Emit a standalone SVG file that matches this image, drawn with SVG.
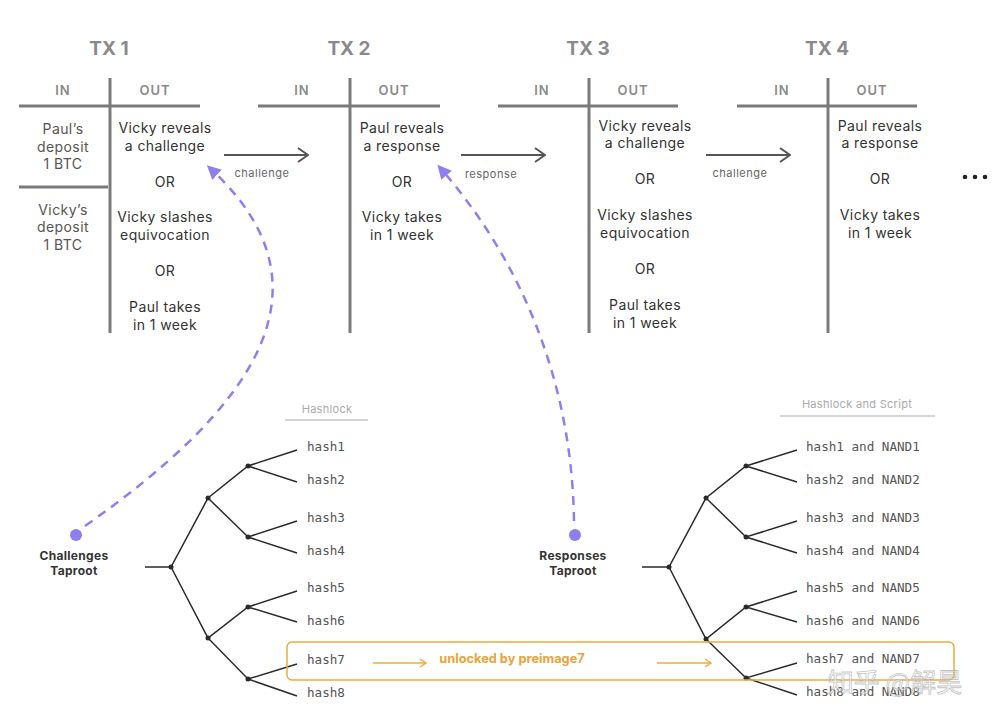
<svg xmlns="http://www.w3.org/2000/svg" width="999" height="721" viewBox="0 0 999 721">
<defs>
<style>
.title{font-family:Inter,"Liberation Sans",sans-serif;font-size:19px;font-weight:700;fill:#8a8a8a;text-anchor:middle}
.hdr{font-family:Inter,"Liberation Sans",sans-serif;font-size:13px;font-weight:600;fill:#8a8a8a;text-anchor:middle;letter-spacing:1px}
.t{font-family:Inter,"Liberation Sans",sans-serif;font-size:14px;fill:#333;text-anchor:middle;letter-spacing:0.4px}
.tin{font-family:Inter,"Liberation Sans",sans-serif;font-size:14px;fill:#555;text-anchor:middle;letter-spacing:0.4px}
.lbl{font-family:Inter,"Liberation Sans",sans-serif;font-size:11px;fill:#666;text-anchor:middle;letter-spacing:0.5px}
.tbl{stroke:#7a7a7a;stroke-width:3;fill:none}
.arr{stroke:#555;stroke-width:2;fill:none}
.tree{stroke:#2a2a2a;stroke-width:1.5;fill:none}
.nd{fill:#2a2a2a}
.mono{font-family:"DejaVu Sans Mono","Liberation Mono",monospace;font-size:12.6px;fill:#555}
.cap{font-family:Inter,"Liberation Sans",sans-serif;font-size:11px;fill:#aaa;text-anchor:middle;letter-spacing:0.3px}
.root{font-family:Inter,"Liberation Sans",sans-serif;font-size:12px;font-weight:700;fill:#333;text-anchor:middle;letter-spacing:0.3px}
.dash{stroke:#8e7ff0;stroke-width:2.5;fill:none;stroke-dasharray:9 7}
.pdot{fill:#8e7ff0}
.org{stroke:#eeac3e;stroke-width:1.5;fill:none}
</style>
<marker id="chev" viewBox="0 0 12 16" refX="11" refY="8" markerWidth="12" markerHeight="16" markerUnits="userSpaceOnUse" orient="auto">
<path d="M1,1 L11,8 L1,15" fill="none" stroke="#555" stroke-width="2"/>
</marker>
<marker id="pa" viewBox="0 0 12 12" refX="6" refY="6" markerWidth="14" markerHeight="14" markerUnits="userSpaceOnUse" orient="auto">
<path d="M0,0 L12,6 L0,12 z" fill="#8e7ff0"/>
</marker>
<marker id="oa" viewBox="0 0 8 10" refX="7" refY="5" markerWidth="8" markerHeight="10" markerUnits="userSpaceOnUse" orient="auto">
<path d="M1,1 L7,5 L1,9" fill="none" stroke="#eeac3e" stroke-width="1.5"/>
</marker>
</defs>
<rect width="999" height="721" fill="#fff"/>

<g id="tx1">
<text class="title" x="109" y="55">TX 1</text>
<text class="hdr" x="63" y="95">IN</text>
<text class="hdr" x="155" y="95">OUT</text>
<line class="tbl" x1="19" y1="106" x2="200" y2="106"/>
<line class="tbl" x1="110" y1="78" x2="110" y2="333"/>
<line class="tbl" x1="19" y1="187" x2="108" y2="187" stroke-width="2"/>
<text class="tin" x="63" y="134">Paul’s</text>
<text class="tin" x="63" y="152">deposit</text>
<text class="tin" x="63" y="169">1 BTC</text>
<text class="tin" x="63" y="215">Vicky’s</text>
<text class="tin" x="63" y="232">deposit</text>
<text class="tin" x="63" y="250">1 BTC</text>
<text class="t" x="165" y="133">Vicky reveals</text>
<text class="t" x="165" y="151">a challenge</text>
<text class="t" x="165" y="187">OR</text>
<text class="t" x="165" y="222">Vicky slashes</text>
<text class="t" x="165" y="240">equivocation</text>
<text class="t" x="165" y="276">OR</text>
<text class="t" x="165" y="312">Paul takes</text>
<text class="t" x="165" y="330">in 1 week</text>
</g>

<g id="tx2">
<text class="title" x="349" y="55">TX 2</text>
<text class="hdr" x="302" y="95">IN</text>
<text class="hdr" x="394" y="95">OUT</text>
<line class="tbl" x1="258" y1="106" x2="440" y2="106"/>
<line class="tbl" x1="350" y1="78" x2="350" y2="333"/>
<text class="t" x="402" y="133">Paul reveals</text>
<text class="t" x="402" y="151">a response</text>
<text class="t" x="402" y="187">OR</text>
<text class="t" x="402" y="222">Vicky takes</text>
<text class="t" x="402" y="240">in 1 week</text>
</g>

<g id="tx3">
<text class="title" x="588" y="55">TX 3</text>
<text class="hdr" x="542" y="95">IN</text>
<text class="hdr" x="633" y="95">OUT</text>
<line class="tbl" x1="498" y1="106" x2="678" y2="106"/>
<line class="tbl" x1="589" y1="78" x2="589" y2="333"/>
<text class="t" x="645" y="131">Vicky reveals</text>
<text class="t" x="645" y="148">a challenge</text>
<text class="t" x="645" y="184">OR</text>
<text class="t" x="645" y="220">Vicky slashes</text>
<text class="t" x="645" y="238">equivocation</text>
<text class="t" x="645" y="274">OR</text>
<text class="t" x="645" y="310">Paul takes</text>
<text class="t" x="645" y="328">in 1 week</text>
</g>

<g id="tx4">
<text class="title" x="827" y="55">TX 4</text>
<text class="hdr" x="782" y="95">IN</text>
<text class="hdr" x="872" y="95">OUT</text>
<line class="tbl" x1="737" y1="106" x2="917" y2="106"/>
<line class="tbl" x1="828" y1="78" x2="828" y2="333"/>
<text class="t" x="880" y="131">Paul reveals</text>
<text class="t" x="880" y="148">a response</text>
<text class="t" x="880" y="184">OR</text>
<text class="t" x="880" y="220">Vicky takes</text>
<text class="t" x="880" y="238">in 1 week</text>
</g>

<g id="more">
<circle cx="965" cy="177" r="2.3" fill="#222"/>
<circle cx="975" cy="177" r="2.3" fill="#222"/>
<circle cx="985" cy="177" r="2.3" fill="#222"/>
</g>

<g id="challenges-tree">
<text class="cap" x="327" y="413">Hashlock</text>
<line x1="285" y1="420" x2="368" y2="420" stroke="#aaa" stroke-width="1.2"/>
<path class="tree" d="M145,567 L171,567 L208,498 L248,466 L297,450 M248,466 L297,482 M208,498 L248,537 L297,521 M248,537 L297,553 M171,567 L208,638 L248,607 L297,591 M248,607 L297,622 M208,638 L248,679 L297,664 M248,679 L297,696"/>
<circle class="nd" cx="171" cy="567" r="2.5"/>
<circle class="nd" cx="208" cy="498" r="2.5"/>
<circle class="nd" cx="208" cy="638" r="2.5"/>
<circle class="nd" cx="248" cy="466" r="2.5"/>
<circle class="nd" cx="248" cy="537" r="2.5"/>
<circle class="nd" cx="248" cy="607" r="2.5"/>
<circle class="nd" cx="248" cy="679" r="2.5"/>
<text class="mono" x="307" y="451">hash1</text>
<text class="mono" x="307" y="484">hash2</text>
<text class="mono" x="307" y="522">hash3</text>
<text class="mono" x="307" y="555">hash4</text>
<text class="mono" x="307" y="592">hash5</text>
<text class="mono" x="307" y="625">hash6</text>
<text class="mono" x="307" y="664">hash7</text>
<text class="mono" x="307" y="697">hash8</text>
<circle class="pdot" cx="76" cy="535" r="6"/>
<text class="root" x="74" y="560">Challenges</text>
<text class="root" x="74" y="575">Taproot</text>
</g>

<g id="responses-tree">
<text class="cap" x="857" y="408">Hashlock and Script</text>
<line x1="780" y1="416" x2="935" y2="416" stroke="#aaa" stroke-width="1.2"/>
<path class="tree" d="M642,567 L669,567 L706,498 L746,466 L797,450 M746,466 L797,482 M706,498 L746,537 L797,521 M746,537 L797,553 M669,567 L706,639 L746,607 L797,591 M746,607 L797,622 M706,639 L746,678 L797,663 M746,678 L797,695"/>
<circle class="nd" cx="669" cy="567" r="2.5"/>
<circle class="nd" cx="706" cy="498" r="2.5"/>
<circle class="nd" cx="706" cy="639" r="2.5"/>
<circle class="nd" cx="746" cy="466" r="2.5"/>
<circle class="nd" cx="746" cy="537" r="2.5"/>
<circle class="nd" cx="746" cy="607" r="2.5"/>
<circle class="nd" cx="746" cy="678" r="2.5"/>
<text class="mono" x="806" y="451">hash1 and NAND1</text>
<text class="mono" x="806" y="484">hash2 and NAND2</text>
<text class="mono" x="806" y="522">hash3 and NAND3</text>
<text class="mono" x="806" y="555">hash4 and NAND4</text>
<text class="mono" x="806" y="592">hash5 and NAND5</text>
<text class="mono" x="806" y="625">hash6 and NAND6</text>
<text class="mono" x="806" y="663">hash7 and NAND7</text>
<text class="mono" x="806" y="696">hash8 and NAND8</text>
<circle class="pdot" cx="575" cy="535" r="6"/>
<text class="root" x="573" y="560">Responses</text>
<text class="root" x="573" y="575">Taproot</text>
</g>

<g id="unlock">
<rect class="org" x="287" y="642" width="667" height="38" rx="5"/>
<text x="512" y="663" font-family="Inter,'Liberation Sans',sans-serif" font-size="12.8px" font-weight="700" fill="#eaa43a" text-anchor="middle">unlocked by preimage7</text>
</g>

<g id="connectors">
<line class="arr" x1="224" y1="155" x2="308" y2="155" marker-end="url(#chev)"/>
<text class="lbl" x="262" y="177">challenge</text>
<line class="arr" x1="461" y1="155" x2="545" y2="155" marker-end="url(#chev)"/>
<text class="lbl" x="491" y="178">response</text>
<line class="arr" x1="706" y1="155" x2="790" y2="155" marker-end="url(#chev)"/>
<text class="lbl" x="740" y="177">challenge</text>
<path class="dash" d="M85,526 C250,410 340,290 212,170" marker-end="url(#pa)"/>
<path class="dash" d="M574,521 C572,380 520,260 442,170" marker-end="url(#pa)"/>
<line class="org" x1="373" y1="663" x2="426" y2="663" marker-end="url(#oa)"/>
<line class="org" x1="657" y1="663" x2="711" y2="663" marker-end="url(#oa)"/>
</g>

<text x="895" y="692" font-family="'Noto Sans CJK SC',sans-serif" font-size="26px" fill="#ffffff" fill-opacity="0.6" stroke="#999" stroke-opacity="0.6" stroke-width="0.8" text-anchor="middle">知乎 @解昊</text>
</svg>
